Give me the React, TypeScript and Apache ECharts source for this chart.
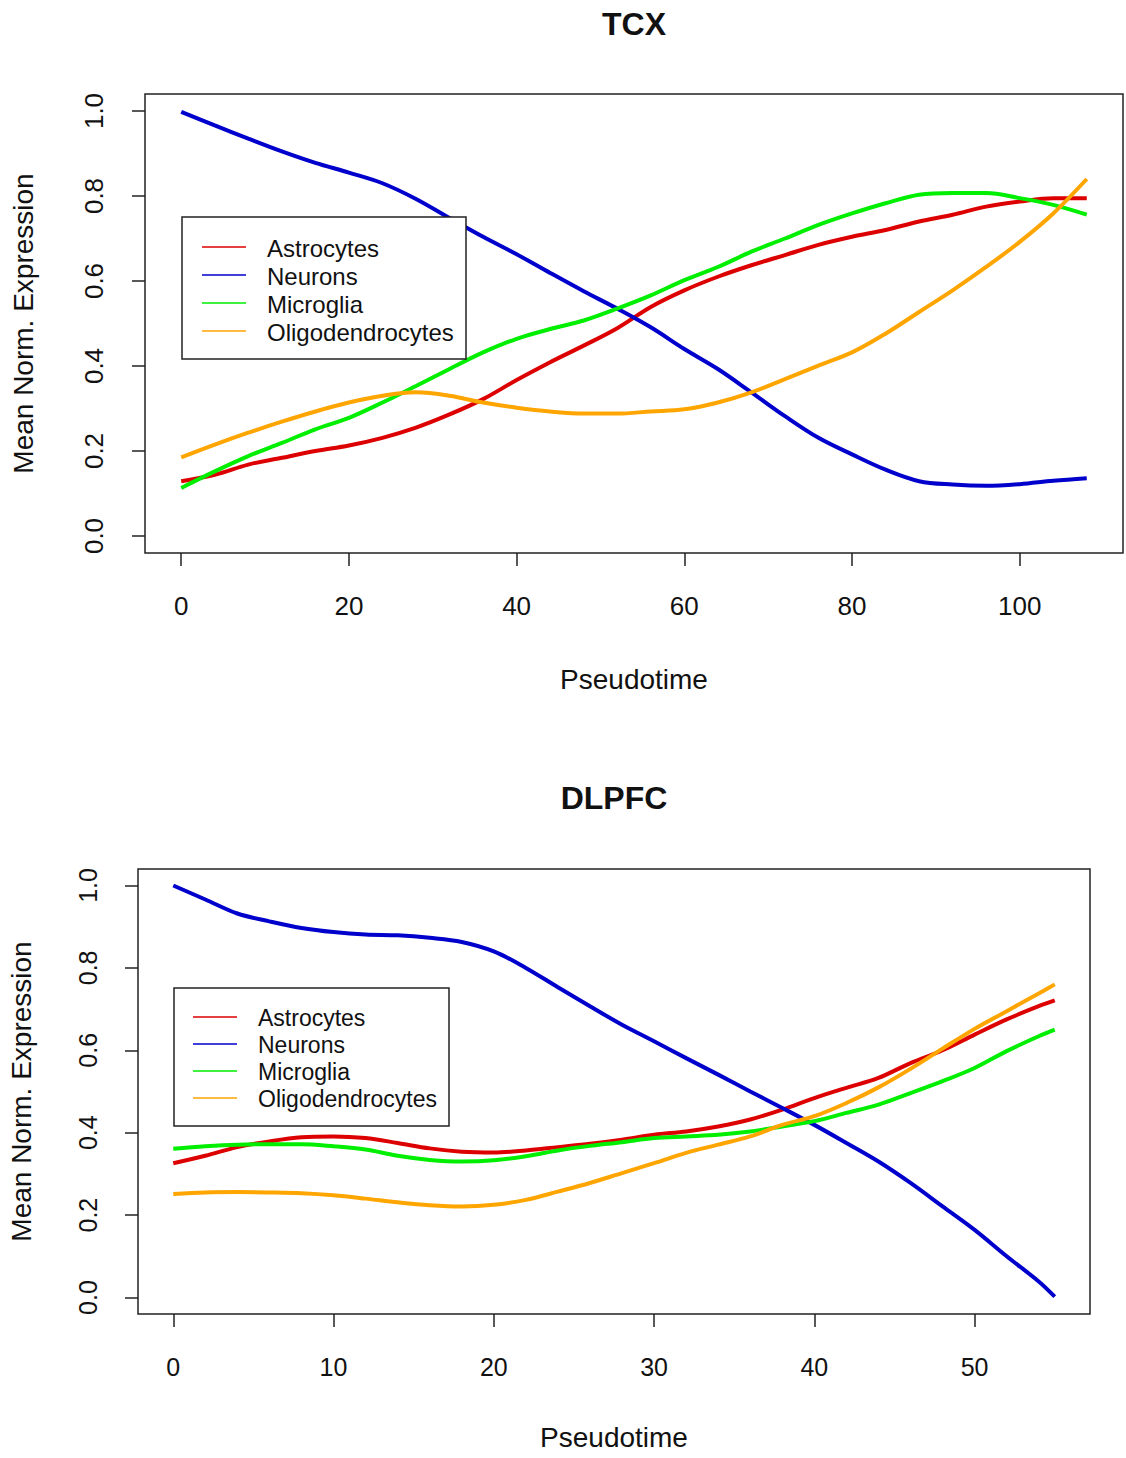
import React, { useEffect, useRef } from "react";
import * as echarts from "echarts";

// ---------- DATA ----------
const seriesNames = ["Astrocytes", "Neurons", "Microglia", "Oligodendrocytes"];
const seriesColors = ["#DD0000", "#0000CC", "#00EE00", "#FFA500"];

// TCX panel (pseudotime 0..108)
const tcxTime = [0, 4, 8, 12, 16, 20, 24, 28, 32, 36, 40, 44, 48, 52, 56, 60, 64, 68, 72, 76, 80, 84, 88, 92, 96, 100, 104, 108];
const tcxAstrocytes = [0.129, 0.144, 0.168, 0.184, 0.2, 0.213, 0.231, 0.255, 0.286, 0.322, 0.367, 0.409, 0.448, 0.489, 0.539, 0.578, 0.61, 0.637, 0.661, 0.685, 0.704, 0.72, 0.74, 0.756, 0.775, 0.787, 0.795, 0.795];
const tcxNeurons = [0.998, 0.966, 0.935, 0.905, 0.878, 0.855, 0.83, 0.793, 0.748, 0.704, 0.663, 0.619, 0.576, 0.535, 0.491, 0.44, 0.393, 0.338, 0.282, 0.231, 0.192, 0.156, 0.129, 0.121, 0.118, 0.122, 0.13, 0.136];
const tcxMicroglia = [0.113, 0.152, 0.188, 0.219, 0.251, 0.278, 0.314, 0.353, 0.393, 0.432, 0.464, 0.487, 0.507, 0.535, 0.566, 0.602, 0.633, 0.669, 0.7, 0.732, 0.759, 0.783, 0.803, 0.807, 0.807, 0.795, 0.779, 0.756];
const tcxOligodendrocytes = [0.185, 0.215, 0.243, 0.269, 0.293, 0.314, 0.33, 0.338, 0.33, 0.314, 0.302, 0.293, 0.288, 0.288, 0.293, 0.298, 0.314, 0.338, 0.369, 0.401, 0.432, 0.476, 0.527, 0.578, 0.633, 0.692, 0.759, 0.84];

// DLPFC panel (pseudotime 0..55)
const dlTime = [0, 2, 4, 6, 8, 10, 12, 14, 16, 18, 20, 22, 24, 26, 28, 30, 32, 34, 36, 38, 40, 42, 44, 46, 48, 50, 52, 54, 55];
const dlAstrocytes = [0.326, 0.344, 0.365, 0.379, 0.389, 0.391, 0.387, 0.375, 0.362, 0.354, 0.352, 0.357, 0.365, 0.373, 0.383, 0.395, 0.403, 0.415, 0.432, 0.456, 0.484, 0.509, 0.533, 0.569, 0.6, 0.638, 0.675, 0.707, 0.721];
const dlNeurons = [1.0, 0.966, 0.932, 0.913, 0.897, 0.887, 0.881, 0.879, 0.873, 0.863, 0.84, 0.8, 0.753, 0.707, 0.662, 0.622, 0.581, 0.541, 0.5, 0.46, 0.419, 0.375, 0.33, 0.278, 0.221, 0.164, 0.1, 0.039, 0.002];
const dlMicroglia = [0.361, 0.367, 0.371, 0.372, 0.372, 0.367, 0.359, 0.344, 0.334, 0.33, 0.333, 0.343, 0.357, 0.368, 0.377, 0.387, 0.391, 0.395, 0.403, 0.415, 0.428, 0.448, 0.468, 0.496, 0.525, 0.557, 0.598, 0.634, 0.65];
const dlOligodendrocytes = [0.251, 0.255, 0.256, 0.255, 0.253, 0.248, 0.24, 0.231, 0.224, 0.221, 0.225, 0.237, 0.257, 0.278, 0.302, 0.326, 0.351, 0.371, 0.391, 0.419, 0.44, 0.472, 0.51, 0.555, 0.604, 0.652, 0.695, 0.738, 0.76];

// tick labels
const tcxXTicks = [0, 20, 40, 60, 80, 100];
const dlXTicks = [0, 10, 20, 30, 40, 50];
const yTicks = [0, 0.2, 0.4, 0.6, 0.8, 1.0];

const panelTitles = ["TCX", "DLPFC"];
const xAxisTitle = "Pseudotime";
const yAxisTitle = "Mean Norm. Expression";

// ---------- LAYOUT ----------
const FONT = "'Liberation Sans', Arial, Helvetica, sans-serif";
const TXT = "#111111";
const BOX = "#222222";

const panels = [
  {
    grid: { left: 145, top: 94, width: 978, height: 459 },
    xMin: -4.32, xMax: 112.32,
    xTicks: tcxXTicks,
    time: tcxTime,
    values: [tcxAstrocytes, tcxNeurons, tcxMicroglia, tcxOligodendrocytes],
    titleY: 24,
    xTitleY: 679,
    yTitleX: 23,
    labelSize: 26,
    legend: { x: 182, y: 217, w: 284, h: 142, lineX1: 202, lineX2: 246, textX: 267, rowY: [247, 275, 303, 331], font: 24 },
  },
  {
    grid: { left: 138, top: 869, width: 952, height: 445 },
    xMin: -2.2, xMax: 57.2,
    xTicks: dlXTicks,
    time: dlTime,
    values: [dlAstrocytes, dlNeurons, dlMicroglia, dlOligodendrocytes],
    titleY: 798,
    xTitleY: 1437,
    yTitleX: 21,
    labelSize: 25,
    legend: { x: 174, y: 988, w: 275, h: 138, lineX1: 193, lineX2: 237, textX: 258, rowY: [1017, 1044, 1071, 1098], font: 23 },
  },
];

function buildOption() {
  const grid: any[] = [];
  const xAxis: any[] = [];
  const yAxis: any[] = [];
  const series: any[] = [];
  const graphic: any[] = [];

  panels.forEach((p, i) => {
    grid.push({
      ...p.grid,
      show: true,
      borderColor: BOX,
      borderWidth: 1.5,
      backgroundColor: "transparent",
    });
    xAxis.push({
      gridIndex: i,
      type: "value",
      position: "bottom",
      min: p.xMin,
      max: p.xMax,
      axisLine: { show: false, onZero: false },
      splitLine: { show: false },
      axisTick: { show: true, customValues: p.xTicks, length: 13, lineStyle: { color: BOX, width: 1.5 } },
      axisLabel: { customValues: p.xTicks, margin: 40, fontSize: p.labelSize, color: TXT, fontFamily: FONT },
    });
    yAxis.push({
      gridIndex: i,
      type: "value",
      position: "left",
      min: -0.04,
      max: 1.04,
      axisLine: { show: false, onZero: false },
      splitLine: { show: false },
      axisTick: { show: true, customValues: yTicks, length: 13, lineStyle: { color: BOX, width: 1.5 } },
      axisLabel: {
        customValues: yTicks,
        rotate: 90,
        margin: 38,
        fontSize: p.labelSize,
        color: TXT,
        fontFamily: FONT,
        formatter: (v: number) => v.toFixed(1),
      },
    });
    p.values.forEach((vals, k) => {
      series.push({
        type: "line",
        name: seriesNames[k] + " " + panelTitles[i],
        xAxisIndex: i,
        yAxisIndex: i,
        data: p.time.map((t, j) => [t, vals[j]]),
        showSymbol: false,
        symbol: "none",
        smooth: 0.35,
        lineStyle: { color: seriesColors[k], width: 4 },
        itemStyle: { color: seriesColors[k] },
        z: 2 + k,
      });
    });

    const cx = p.grid.left + p.grid.width / 2;
    const cy = p.grid.top + p.grid.height / 2;
    // panel title
    graphic.push({
      type: "text",
      x: cx,
      y: p.titleY,
      z: 100,
      style: { text: panelTitles[i], font: `bold 32px ${FONT}`, fill: TXT, align: "center", verticalAlign: "middle", textAlign: "center", textVerticalAlign: "middle" },
    });
    // x title
    graphic.push({
      type: "text",
      x: cx,
      y: p.xTitleY,
      z: 100,
      style: { text: xAxisTitle, font: `28px ${FONT}`, fill: TXT, align: "center", verticalAlign: "middle", textAlign: "center", textVerticalAlign: "middle" },
    });
    // y title
    graphic.push({
      type: "text",
      x: p.yTitleX,
      y: cy,
      rotation: Math.PI / 2,
      z: 100,
      style: { text: yAxisTitle, font: `28px ${FONT}`, fill: TXT, align: "center", verticalAlign: "middle", textAlign: "center", textVerticalAlign: "middle" },
    });
    // legend
    const L = p.legend;
    graphic.push({
      type: "rect",
      z: 100,
      shape: { x: L.x, y: L.y, width: L.w, height: L.h },
      style: { fill: "#ffffff", stroke: BOX, lineWidth: 1.5 },
    });
    seriesNames.forEach((name, k) => {
      graphic.push({
        type: "line",
        z: 101,
        shape: { x1: L.lineX1, y1: L.rowY[k], x2: L.lineX2, y2: L.rowY[k] },
        style: { stroke: seriesColors[k], lineWidth: 1.6 },
      });
      graphic.push({
        type: "text",
        z: 101,
        x: L.textX,
        y: L.rowY[k] + 1,
        style: { text: name, font: `${L.font}px ${FONT}`, fill: TXT, align: "left", verticalAlign: "middle", textAlign: "left", textVerticalAlign: "middle" },
      });
    });
  });

  return {
    animation: false,
    backgroundColor: "#ffffff",
    grid,
    xAxis,
    yAxis,
    series,
    graphic,
  };
}

export default function App() {
  const ref = useRef<HTMLDivElement>(null);
  useEffect(() => {
    if (!ref.current) return;
    const chart = echarts.init(ref.current, undefined, { renderer: "svg" });
    chart.setOption(buildOption() as any);
    return () => chart.dispose();
  }, []);
  return <div ref={ref} style={{ position: "absolute", left: 0, top: 0, width: 1126, height: 1458 }} />;
}
